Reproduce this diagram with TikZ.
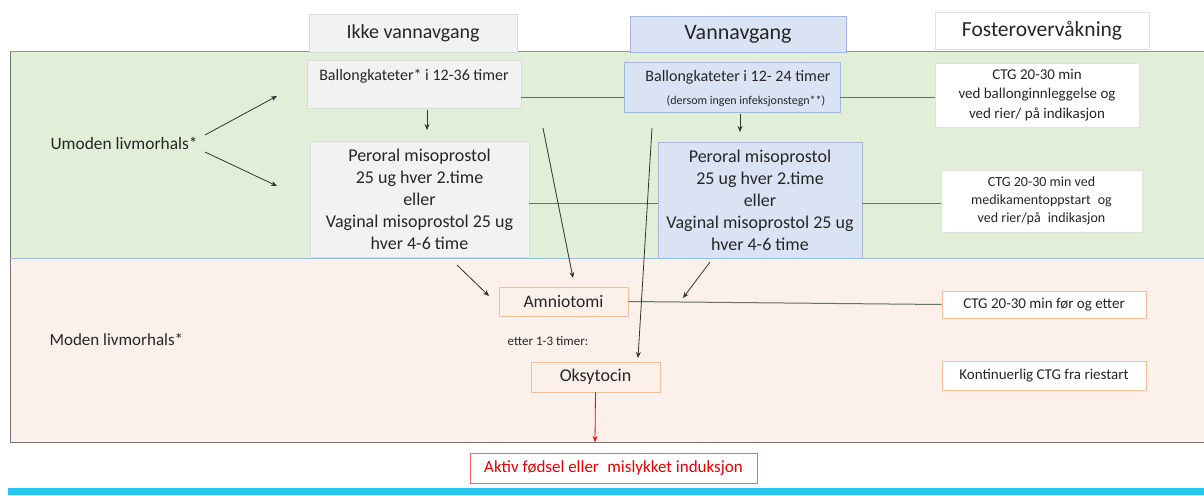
\documentclass[tikz,border=0pt]{standalone}
\usepackage{fontspec}
\setmainfont{Carlito}
\usetikzlibrary{arrows.meta}
\definecolor{zgreen}{RGB}{225,238,216}
\definecolor{zpink}{RGB}{251,240,234}
\definecolor{zgreybox}{RGB}{242,242,242}
\definecolor{zbluebox}{RGB}{218,227,243}
\definecolor{zblueedge}{RGB}{160,185,225}
\definecolor{zorange}{RGB}{244,190,150}
\definecolor{zline}{RGB}{100,115,95}
\definecolor{zcyan}{RGB}{40,195,240}
\definecolor{ztext}{RGB}{38,38,38}
\tikzset{
  base/.style={draw, line width=0.8pt, inner sep=0pt, align=center, text=ztext, font=\fontsize{18}{22}\selectfont},
  greybox/.style={base, draw=black!15, fill=zgreybox},
  bluebox/.style={base, draw=zblueedge, fill=zbluebox},
  whitebox/.style={base, draw=black!12, fill=white},
  orangebox/.style={base, draw=zorange, fill=zpink},
  ctgorange/.style={base, draw=zorange, fill=white},
  conn/.style={zline, line width=1pt},
  arr/.style={black!80, line width=0.8pt, -{Stealth[length=6pt,width=5pt]}},
}
\begin{document}
\begin{tikzpicture}[x=1pt,y=-1pt]
\useasboundingbox (0,0) rectangle (1204,495);
% regions
\fill[zgreen] (10,52) rectangle (1204,258);
\fill[zpink] (10,258) rectangle (1204,442);
\draw[black!55, line width=1pt] (10,52) -- (10,442) -- (1204,442);
\draw[zblueedge!80!black, line width=1pt] (10,52) -- (1204,52);
\draw[zblueedge, line width=0.8pt] (10,258) -- (1204,258);
\fill[zcyan] (8,488) rectangle (1204,495);
% headers
\node[greybox, minimum width=208pt, minimum height=38pt, font=\fontsize{20}{22}\selectfont] (h1) at (413,33) {Ikke vannavgang};
\node[bluebox, minimum width=216pt, minimum height=36pt, font=\fontsize{22}{24}\selectfont] (h2) at (738,34) {Vannavgang};
\node[whitebox, minimum width=214pt, minimum height=37pt, font=\fontsize{21.5}{24}\selectfont] (h3) at (1042,30.5) {Fosterovervåkning};
% row 1
\node[greybox, minimum width=214pt, minimum height=48pt] (b1) at (414,84) {};
\node[ztext, font=\fontsize{16}{18}\selectfont] (b1t) at (414,76) {Ballongkateter* i 12-36 timer};
\node[bluebox, minimum width=216pt, minimum height=50pt] (b2) at (732,87) {};
\node[ztext, font=\fontsize{16}{18}\selectfont] (b2t) at (738,77) {Ballongkateter i 12- 24 timer};
\node[ztext, font=\fontsize{12}{14}\selectfont] (b2s) at (746,101) {(dersom ingen infeksjonstegn**)};
\node[whitebox, minimum width=204pt, minimum height=64pt, font=\fontsize{15}{19.5}\selectfont] (c1) at (1037,95) {CTG 20-30 min\\ved ballonginnleggelse og\\ved rier/ på indikasjon};
% row 2
\node[greybox, minimum width=219pt, minimum height=116pt] (p1) at (419.5,199) {Peroral misoprostol\\25 ug hver 2.time\\eller\\Vaginal misoprostol 25 ug\\hver 4-6 time};
\node[bluebox, minimum width=204pt, minimum height=116pt] (p2) at (760,200) {Peroral misoprostol\\25 ug hver 2.time\\eller\\Vaginal misoprostol 25 ug\\hver 4-6 time};
\node[whitebox, minimum width=201pt, minimum height=62pt, font=\fontsize{14}{18}\selectfont] (c2) at (1041.5,201) {CTG 20-30 min ved\\medikamentoppstart\hspace{0.5em}og\\ved rier/på\hspace{0.5em}indikasjon};
% left labels
\node[ztext, anchor=west, font=\fontsize{17.4}{20}\selectfont] (um) at (47,143) {Umoden livmorhals*};
\node[ztext, anchor=west, font=\fontsize{17}{20}\selectfont] (mo) at (46,340) {Moden livmorhals*};
% lower boxes
\node[orangebox, minimum width=129pt, minimum height=29pt, font=\fontsize{17.6}{20}\selectfont] (am) at (563.5,301.5) {Amniotomi};
\node[ztext, font=\fontsize{13}{15}\selectfont] (et) at (548,341) {etter 1-3 timer:};
\node[orangebox, minimum width=129pt, minimum height=30pt, font=\fontsize{18}{20}\selectfont] (ok) at (595.5,377) {Oksytocin};
\node[ctgorange, minimum width=204pt, minimum height=27pt, font=\fontsize{15}{17}\selectfont] (c3) at (1044,304.5) {CTG 20-30 min før og etter};
\node[ctgorange, minimum width=204pt, minimum height=29pt, font=\fontsize{15}{17}\selectfont] (c4) at (1044,375.5) {Kontinuerlig CTG fra riestart};
\node[base, draw=red!60, fill=white, text=red!90!black, minimum width=287pt, minimum height=30pt, font=\fontsize{17}{20}\selectfont] (ak) at (613.5,468) {Aktiv fødsel eller\hspace{0.5em}mislykket induksjon};
% horizontal connectors
\draw[conn] (b1.east |- 0,97) -- (b2.west |- 0,97);
\draw[conn] (b2.east |- 0,97) -- (c1.west |- 0,97);
\draw[conn] (p1.east |- 0,203) -- (p2.west |- 0,203);
\draw[conn] (p2.east |- 0,203) -- (c2.west |- 0,203);
\draw[conn] (am.east) -- (c3.west);
% coordinates for arrows
\coordinate (u1) at (205,135);
\coordinate (u1e) at (277,96);
\coordinate (u2) at (205,152);
\coordinate (u2e) at (277,186);
\coordinate (d1) at (543,128);
\coordinate (d1e) at (573,278);
\coordinate (d2) at (652,128);
\coordinate (d2e) at (638,358);
\coordinate (d3) at (457,265);
\coordinate (d3e) at (489,296);
\coordinate (d4) at (710,262);
\coordinate (d4e) at (683,298);
\coordinate (ae) at (595,442);
\draw[arr] (u1) -- (u1e);
\draw[arr] (u2) -- (u2e);
\draw[arr] (b1.south -| 427,0) ++(0,2) -- (427,130);
\draw[arr] (b2.south -| 740,0) ++(0,2) -- (740,132);
\draw[arr] (d1) -- (d1e);
\draw[arr] (d2) -- (d2e);
\draw[arr] (d3) -- (d3e);
\draw[arr] (d4) -- (d4e);
\draw[red, line width=0.8pt, -{Stealth[length=6pt,width=5pt]}] (ok.south) -- (ae);
\end{tikzpicture}
\end{document}
